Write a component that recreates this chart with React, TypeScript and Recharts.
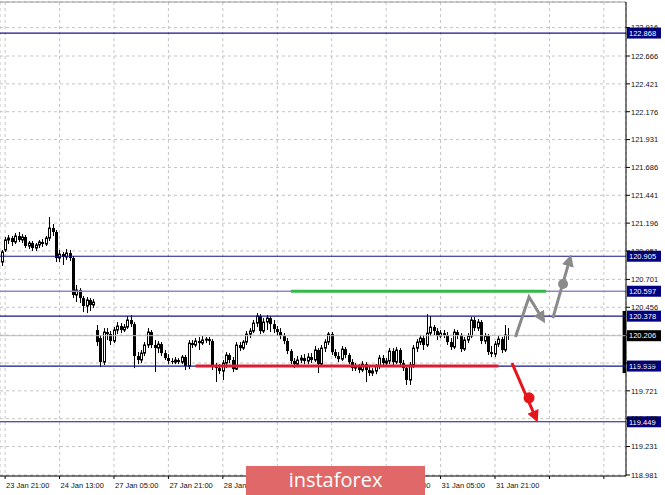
import React from 'react';
import { ComposedChart, Bar, Line, XAxis, YAxis, CartesianGrid, ReferenceLine, ReferenceArea } from 'recharts';

const opens = [
  120.854,120.960,121.048,121.065,121.030,121.083,121.048,121.074,120.995,121.021,
  120.977,121.004,121.030,121.012,121.065,121.153,121.118,120.889,120.924,120.898,
  120.933,120.889,120.564,120.608,120.537,120.467,120.520,120.476,120.256,120.185,
  119.974,120.238,120.220,120.159,120.256,120.291,120.256,120.282,120.344,120.308,
  120.027,119.992,120.053,120.124,120.238,120.124,120.097,120.132,120.053,120.009,
  119.983,119.974,119.992,119.974,120.018,119.939,120.141,120.124,120.159,120.141,
  120.168,120.176,120.159,119.939,119.921,119.895,119.965,120.036,119.992,119.912,
  120.124,120.097,120.150,120.220,120.247,120.317,120.379,120.247,120.326,120.361,
  120.308,120.264,120.238,120.203,120.159,120.071,119.983,119.956,119.992,120.009,
  119.983,120.018,119.992,120.080,119.956,120.097,120.150,120.220,120.062,120.027,
  120.000,120.088,120.036,119.974,119.921,119.939,119.904,119.956,119.904,119.877,
  119.895,119.939,120.009,119.965,119.983,120.071,119.974,120.080,119.965,119.921,
  119.816,119.948,120.097,120.150,120.185,120.124,120.229,120.282,120.247,120.203,
  120.229,120.212,120.150,120.106,120.238,120.212,120.088,120.168,120.203,120.344,
  120.273,120.326,120.159,120.203,120.062,120.044,120.132,120.176,120.080,120.212,
];
const closes = [
  120.942,121.048,121.065,121.030,121.083,121.048,121.074,120.995,121.021,120.977,
  121.004,121.030,121.012,121.065,121.153,121.118,120.889,120.924,120.898,120.933,
  120.889,120.564,120.608,120.537,120.467,120.520,120.476,120.502,120.150,119.974,
  120.238,120.220,120.159,120.256,120.291,120.256,120.282,120.344,120.308,120.027,
  119.992,120.053,120.124,120.238,120.124,120.097,120.132,120.053,120.009,119.983,
  119.974,119.992,119.974,120.018,119.939,120.141,120.124,120.159,120.141,120.168,
  120.176,120.159,119.939,119.921,119.895,119.965,120.036,119.992,119.912,120.124,
  120.097,120.150,120.220,120.247,120.317,120.379,120.247,120.326,120.361,120.308,
  120.264,120.238,120.203,120.159,120.071,119.983,119.956,119.992,120.009,119.983,
  120.018,119.992,120.080,119.956,120.097,120.150,120.220,120.062,120.027,120.000,
  120.088,120.036,119.974,119.921,119.939,119.904,119.956,119.904,119.877,119.895,
  119.939,120.009,119.965,119.983,120.071,119.974,120.080,119.965,119.921,119.816,
  119.948,120.097,120.150,120.185,120.124,120.229,120.282,120.247,120.203,120.229,
  120.212,120.150,120.106,120.238,120.212,120.088,120.168,120.203,120.344,120.273,
  120.326,120.159,120.203,120.062,120.044,120.132,120.176,120.080,120.212,120.206,
];
const highs = [
  120.960,121.074,121.092,121.083,121.109,121.118,121.100,121.092,121.039,121.039,
  121.021,121.048,121.056,121.083,121.250,121.188,121.136,120.960,120.942,120.968,
  120.960,120.907,120.652,120.625,120.555,120.546,120.537,120.528,120.300,120.212,
  120.273,120.273,120.247,120.282,120.326,120.317,120.308,120.379,120.388,120.326,
  120.062,120.080,120.150,120.273,120.256,120.168,120.159,120.150,120.080,120.044,
  120.009,120.018,120.009,120.036,120.036,120.168,120.168,120.185,120.194,120.203,
  120.194,120.194,120.176,119.965,119.956,119.992,120.062,120.053,120.018,120.150,
  120.150,120.168,120.247,120.273,120.344,120.405,120.396,120.361,120.388,120.379,
  120.344,120.291,120.273,120.229,120.185,120.088,120.009,120.027,120.036,120.044,
  120.053,120.053,120.115,120.097,120.124,120.176,120.238,120.238,120.088,120.062,
  120.115,120.106,120.053,120.000,119.965,119.956,119.983,119.974,119.930,119.921,
  119.956,120.036,120.036,120.009,120.097,120.097,120.106,120.097,119.992,119.948,
  119.974,120.124,120.176,120.212,120.212,120.396,120.379,120.300,120.273,120.256,
  120.256,120.238,120.185,120.264,120.256,120.229,120.194,120.229,120.370,120.370,
  120.352,120.344,120.229,120.220,120.115,120.159,120.203,120.194,120.300,120.273,
];
const lows = [
  120.819,120.942,121.012,120.995,121.012,121.030,121.021,120.977,120.968,120.951,
  120.951,120.977,120.986,120.995,121.039,121.083,120.854,120.854,120.828,120.872,
  120.863,120.537,120.502,120.493,120.414,120.405,120.423,120.449,120.115,119.930,
  119.948,120.168,120.124,120.141,120.220,120.229,120.238,120.264,120.282,119.921,
  119.956,119.965,120.027,120.097,120.097,119.886,120.053,120.027,119.992,119.956,
  119.956,119.956,119.956,119.956,119.904,119.912,120.097,120.106,120.080,120.124,
  120.141,120.124,119.904,119.798,119.868,119.816,119.921,119.965,119.886,119.904,
  120.071,120.080,120.124,120.185,120.229,120.282,120.220,120.229,120.256,120.238,
  120.229,120.203,120.176,120.132,120.044,119.956,119.921,119.930,119.965,119.956,
  119.956,119.965,119.974,119.877,119.939,120.062,120.124,120.036,120.009,119.974,
  119.983,120.009,119.956,119.895,119.895,119.877,119.886,119.798,119.851,119.851,
  119.868,119.912,119.939,119.948,119.956,119.948,119.956,119.930,119.895,119.772,
  119.772,119.921,120.062,120.124,120.080,120.106,120.203,120.212,120.168,120.185,
  120.185,120.124,120.080,120.088,120.176,120.062,120.071,120.141,120.185,120.247,
  120.247,120.132,120.132,120.036,120.018,120.018,120.106,120.053,120.062,120.168,
];

const TOTAL_SLOTS = 184;
const yDomain = [118.972, 123.141];
const yTicks = [122.916,122.666,122.421,122.176,121.931,121.686,121.441,121.196,120.951,120.701,120.456,120.211,119.966,119.721,119.476,119.231,118.981];
const coveredTicks = [120.211];
const xTickSlots = [1,17,33,49,65,81,97,113,129,145,161,177];
const xTickLabels = ['23 Jan 21:00','24 Jan 13:00','27 Jan 05:00','27 Jan 21:00','28 Jan 13:00','29 Jan 05:00','29 Jan 21:00','30 Jan 13:00','31 Jan 05:00','31 Jan 21:00','',''];

const navyLevels = [122.868, 120.905, 120.378, 119.939, 119.449];
const midLevel = 120.597;
const bidPrice = 120.206;
const greenSegment = { level: 120.597, from: 85, to: 160 };
const redSegment = { level: 119.939, from: 57, to: 146 };
const dayRange = { from: 119.877, to: 120.423 };

const grayArrow1 = [{ i: 151, v: 120.194 }, { i: 155, v: 120.546 }, { i: 159, v: 120.352 }];
const grayArrow2 = [{ i: 162, v: 120.361 }, { i: 167, v: 120.880 }];
const grayDot = [{ i: 165, v: 120.66 }];
const redArrow = [{ i: 150, v: 119.965 }, { i: 157, v: 119.482 }];
const redDot = [{ i: 155, v: 119.66 }];

const rows: any[] = Array.from({ length: TOTAL_SLOTS }, (_, i) => {
  const r: any = { i };
  if (i < opens.length) {
    r.o = opens[i]; r.h = highs[i]; r.l = lows[i]; r.c = closes[i];
    r.range = [lows[i], highs[i]];
  }
  return r;
});
grayArrow1.forEach(p => { rows[p.i].ga1 = p.v; });
grayArrow2.forEach(p => { rows[p.i].ga2 = p.v; });
grayDot.forEach(p => { rows[p.i].gd = p.v; });
redArrow.forEach(p => { rows[p.i].ra = p.v; });
redDot.forEach(p => { rows[p.i].rd = p.v; });

const FONT = '"Liberation Sans", Arial, sans-serif';

const Candle = (props: any) => {
  const { x, y, width, height, payload } = props;
  if (!payload || payload.o == null) return null;
  const top = Math.min(y, y + height);
  const bot = Math.max(y, y + height);
  const span = payload.h - payload.l;
  const py = (v: number) => (span > 0 ? top + ((payload.h - v) / span) * (bot - top) : top);
  const cx = Math.round(x + width / 2) + 0.5;
  const yo = py(payload.o);
  const yc = py(payload.c);
  const bTop = Math.min(yo, yc);
  const bH = Math.max(1, Math.abs(yc - yo));
  const bull = payload.c >= payload.o;
  return (
    <g>
      <line x1={cx} x2={cx} y1={top} y2={bot} stroke="#000" strokeWidth={1} />
      {bull ? (
        <rect x={cx - 1} y={bTop} width={2} height={bH} fill="#fff" stroke="#000" strokeWidth={1} />
      ) : (
        <rect x={cx - 1.5} y={bTop} width={3} height={bH} fill="#000" />
      )}
    </g>
  );
};

const YTick = (props: any) => {
  const { x, y, payload } = props;
  if (coveredTicks.includes(payload.value)) return <g />;
  return (
    <text x={x} y={y} dy={2.8} fontSize={7.5} fontFamily={FONT} fill="#111" textAnchor="start">
      {Number(payload.value).toFixed(3)}
    </text>
  );
};

const XTick = (props: any) => {
  const { x, y, payload } = props;
  const idx = xTickSlots.indexOf(payload.value);
  const label = idx >= 0 ? xTickLabels[idx] : '';
  return (
    <text x={x + 1} y={y} dy={7} fontSize={7.5} fontFamily={FONT} fill="#111" textAnchor="start">
      {label}
    </text>
  );
};

const priceBox = (text: string, bg: string) => (p: any) => {
  const vb = p.viewBox || {};
  const right = (vb.x || 0) + (vb.width || 0);
  const yy = vb.y || 0;
  return (
    <g>
      <rect x={right + 1} y={yy - 5.5} width={34} height={11} fill={bg} />
      <text x={right + 3} y={yy + 2.8} fill="#fff" fontSize={7.5} fontFamily={FONT}>{text}</text>
    </g>
  );
};

const dotRenderer = (fill: string, r: number) => (p: any) => {
  const { cx, cy, value, index } = p;
  if (value == null || cy == null || isNaN(cy)) return <g key={`d${index}`} />;
  return <circle key={`d${index}`} cx={cx} cy={cy} r={r} fill={fill} />;
};

export default function App() {
  return (
    <div style={{ position: 'absolute', left: 0, top: 0, width: 665, height: 495, background: '#fff', overflow: 'hidden' }}>
      <svg width={0} height={0} style={{ position: 'absolute' }}>
        <defs>
          <marker id="arrGray" viewBox="0 0 10 10" refX="6" refY="5" markerWidth="4" markerHeight="4" orient="auto">
            <path d="M0,0 L10,5 L0,10 z" fill="#8a8a8a" />
          </marker>
          <marker id="arrRed" viewBox="0 0 10 10" refX="6" refY="5" markerWidth="4" markerHeight="4" orient="auto">
            <path d="M0,0 L10,5 L0,10 z" fill="#e8141c" />
          </marker>
        </defs>
      </svg>
      <ComposedChart width={665} height={495} data={rows} margin={{ top: 2, right: 0, bottom: 0, left: 0 }}>
        <CartesianGrid strokeDasharray="3 3" stroke="#c4c4c4" />
        <XAxis
          dataKey="i"
          type="category"
          ticks={xTickSlots}
          interval={0}
          height={19}
          tickSize={3}
          tickLine={{ stroke: '#000' }}
          axisLine={{ stroke: '#000' }}
          tick={<XTick />}
        />
        <YAxis
          orientation="right"
          type="number"
          width={39}
          domain={yDomain}
          allowDataOverflow
          ticks={yTicks}
          interval={0}
          tickSize={4}
          tickMargin={1}
          tickLine={{ stroke: '#000' }}
          axisLine={{ stroke: '#000' }}
          tick={<YTick />}
        />
        <ReferenceLine y={yDomain[1]} stroke="#9a9a9a" />
        <Bar dataKey="range" barSize={3} shape={<Candle />} isAnimationActive={false} />
        <ReferenceLine y={bidPrice} stroke="#b8b8b8" label={priceBox('120.206', '#000')} />
        {navyLevels.map(v => (
          <ReferenceLine key={v} y={v} stroke="#14148a" strokeWidth={1.2} label={priceBox(v.toFixed(3), '#000080')} />
        ))}
        <ReferenceLine y={midLevel} stroke="#8c8cc4" strokeWidth={1.5} label={priceBox(midLevel.toFixed(3), '#000080')} />
        <ReferenceLine
          segment={[{ x: greenSegment.from, y: greenSegment.level }, { x: greenSegment.to, y: greenSegment.level }]}
          stroke="#35b848"
          strokeWidth={3}
        />
        <ReferenceLine
          segment={[{ x: redSegment.from, y: redSegment.level }, { x: redSegment.to, y: redSegment.level }]}
          stroke="#dc1c34"
          strokeWidth={3}
        />
        <ReferenceArea x1={TOTAL_SLOTS - 1} x2={TOTAL_SLOTS - 1} y1={dayRange.from} y2={dayRange.to} fill="#000" fillOpacity={1} stroke="none" />
        <Line dataKey="ga1" stroke="#8a8a8a" strokeWidth={3} connectNulls dot={false} activeDot={false} isAnimationActive={false} markerEnd="url(#arrGray)" />
        <Line dataKey="ga2" stroke="#8a8a8a" strokeWidth={3} connectNulls dot={false} activeDot={false} isAnimationActive={false} markerEnd="url(#arrGray)" />
        <Line dataKey="gd" stroke="none" dot={dotRenderer('#8a8a8a', 5)} activeDot={false} isAnimationActive={false} />
        <Line dataKey="ra" stroke="#e8141c" strokeWidth={3} connectNulls dot={false} activeDot={false} isAnimationActive={false} markerEnd="url(#arrRed)" />
        <Line dataKey="rd" stroke="none" dot={dotRenderer('#e8141c', 5.5)} activeDot={false} isAnimationActive={false} />
      </ComposedChart>
      <div
        style={{
          position: 'absolute', left: 246, top: 466, width: 179, height: 29,
          background: '#e06868', color: '#fff', fontFamily: '"Open Sans", sans-serif',
          fontSize: 20, lineHeight: '28px', textAlign: 'center',
        }}
      >
        instaforex
      </div>
    </div>
  );
}
